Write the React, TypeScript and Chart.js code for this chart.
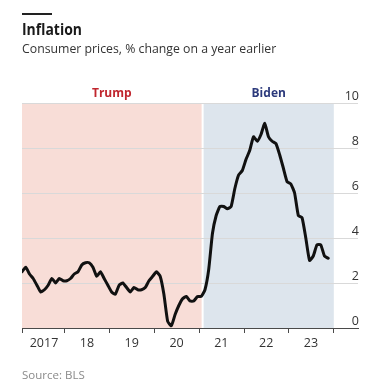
import React, { useEffect, useRef } from "react";
import { Chart, registerables } from "chart.js";

Chart.register(...registerables);

// ---- data (CPI, % change on a year earlier, monthly) ----
const years = [2017, 2018, 2019, 2020, 2021, 2022, 2023];
const cpi2017 = [2.5, 2.7, 2.4, 2.2, 1.9, 1.6, 1.7, 1.9, 2.2, 2.0, 2.2, 2.1];
const cpi2018 = [2.1, 2.2, 2.4, 2.5, 2.8, 2.9, 2.9, 2.7, 2.3, 2.5, 2.2, 1.9];
const cpi2019 = [1.6, 1.5, 1.9, 2.0, 1.8, 1.6, 1.8, 1.7, 1.7, 1.8, 2.1, 2.3];
const cpi2020 = [2.5, 2.3, 1.5, 0.3, 0.1, 0.6, 1.0, 1.3, 1.4, 1.2, 1.2, 1.4];
const cpi2021 = [1.4, 1.7, 2.6, 4.2, 5.0, 5.4, 5.4, 5.3, 5.4, 6.2, 6.8, 7.0];
const cpi2022 = [7.5, 7.9, 8.5, 8.3, 8.6, 9.1, 8.5, 8.3, 8.2, 7.7, 7.1, 6.5];
const cpi2023 = [6.4, 6.0, 5.0, 4.9, 4.0, 3.0, 3.2, 3.7, 3.7, 3.2, 3.1];
const seriesByYear = [cpi2017, cpi2018, cpi2019, cpi2020, cpi2021, cpi2022, cpi2023];

const xTickValues = [2017, 2018, 2019, 2020, 2021, 2022, 2023, 2024];
const xTickLabels = ["2017", "18", "19", "20", "21", "22", "23", ""];
const yTickValues = [0, 2, 4, 6, 8, 10];

const periodNames = ["Trump", "Biden"];
const periodStarts = [2017, 2021.05];
const periodEnds = [2021.05, 2024];

// ---- styles ----
const FONT = "'Open Sans', 'Noto Sans', sans-serif";
const periodFills = ["#f8ddd7", "#dde5ed"];
const periodTextColors = ["#c0262e", "#2c3a7c"];

const points = years.flatMap((yr, yi) =>
  seriesByYear[yi].map((v, m) => ({ x: yr + m / 12 + 1 / 24, y: v }))
);
const xMin = points[0].x;
const xMax = 2024.54;

const shadePlugin = {
  id: "periodShade",
  beforeDraw(chart: any) {
    const { ctx, scales } = chart;
    const x = scales.x;
    const y = scales.y;
    const top = y.getPixelForValue(10);
    const bottom = y.getPixelForValue(0);
    ctx.save();
    periodNames.forEach((name, i) => {
      let x0 = x.getPixelForValue(Math.max(periodStarts[i], xMin));
      const x1 = x.getPixelForValue(periodEnds[i]);
      if (i > 0) x0 += 2;
      ctx.fillStyle = periodFills[i];
      ctx.fillRect(x0, top, x1 - x0, bottom - top);
      ctx.fillStyle = periodTextColors[i];
      ctx.font = `bold 12px ${FONT}`;
      ctx.textAlign = "center";
      ctx.textBaseline = "alphabetic";
      ctx.fillText(name, (x0 + x1) / 2, top - 6);
    });
    ctx.restore();
  },
};

export default function App() {
  const canvasRef = useRef<HTMLCanvasElement | null>(null);

  useEffect(() => {
    if (!canvasRef.current) return;
    const chart = new Chart(canvasRef.current, {
      type: "line",
      data: {
        datasets: [
          {
            data: points,
            borderColor: "#111111",
            borderWidth: 3,
            pointRadius: 0,
            tension: 0.15,
            borderJoinStyle: "round",
            borderCapStyle: "round",
            fill: false,
          },
        ],
      },
      options: {
        animation: false,
        responsive: false,
        maintainAspectRatio: false,
        layout: { padding: { left: 22, right: 13, top: 103, bottom: 0 } },
        plugins: {
          legend: { display: false },
          tooltip: { enabled: false },
        },
        scales: {
          x: {
            type: "linear",
            min: xMin,
            max: xMax,
            afterBuildTicks: (axis: any) => {
              axis.ticks = xTickValues.map((v) => ({ value: Math.max(v, xMin) }));
            },
            afterFit: (axis: any) => {
              axis.height = 57;
            },
            grid: {
              drawOnChartArea: false,
              drawTicks: true,
              tickLength: 5,
              color: "#4a4a4a",
              lineWidth: 1,
            },
            border: { display: true, color: "#4a4a4a", width: 1 },
            ticks: {
              autoSkip: false,
              maxRotation: 0,
              minRotation: 0,
              labelOffset: 22,
              padding: 3,
              color: "#333333",
              font: { family: FONT, size: 12.5 },
              callback: (_v: any, i: number) => xTickLabels[i],
            },
          },
          y: {
            position: "right",
            min: 0,
            max: 10,
            afterBuildTicks: (axis: any) => {
              axis.ticks = yTickValues.map((v) => ({ value: v }));
            },
            afterFit: (axis: any) => {
              axis.width = 0;
            },
            grid: { color: "#d9d9d9", drawTicks: false, lineWidth: 1 },
            border: { display: false },
            ticks: {
              mirror: true,
              padding: 1,
              labelOffset: -7,
              color: "#333333",
              font: { family: FONT, size: 12.5 },
            },
          },
        },
      },
      plugins: [shadePlugin],
    } as any);
    return () => chart.destroy();
  }, []);

  return (
    <div
      style={{
        position: "absolute",
        left: 0,
        top: 0,
        width: 371,
        height: 385,
        background: "#ffffff",
        fontFamily: FONT,
        overflow: "hidden",
      }}
    >
      <canvas
        ref={canvasRef}
        width={371}
        height={385}
        style={{ position: "absolute", left: 0, top: 0, width: 371, height: 385, display: "block" }}
      />
      <div style={{ position: "absolute", left: 22, top: 13, width: 30, height: 2, background: "#222" }} />
      <div
        style={{
          position: "absolute",
          left: 22,
          top: 22,
          fontSize: 15.5,
          lineHeight: 1,
          fontWeight: 700,
          color: "#1a1a1a",
          whiteSpace: "nowrap",
          transform: "scaleX(0.9)",
          transformOrigin: "left top",
        }}
      >
        Inflation
      </div>
      <div
        style={{
          position: "absolute",
          left: 22,
          top: 42,
          fontSize: 13.5,
          lineHeight: 1,
          color: "#333333",
          whiteSpace: "nowrap",
          transform: "scaleX(0.91)",
          transformOrigin: "left top",
        }}
      >
        Consumer prices, % change on a year earlier
      </div>
      <div
        style={{
          position: "absolute",
          left: 22,
          top: 369,
          fontSize: 11.5,
          lineHeight: 1,
          color: "#8a8a8a",
          whiteSpace: "nowrap",
        }}
      >
        Source: BLS
      </div>
    </div>
  );
}
